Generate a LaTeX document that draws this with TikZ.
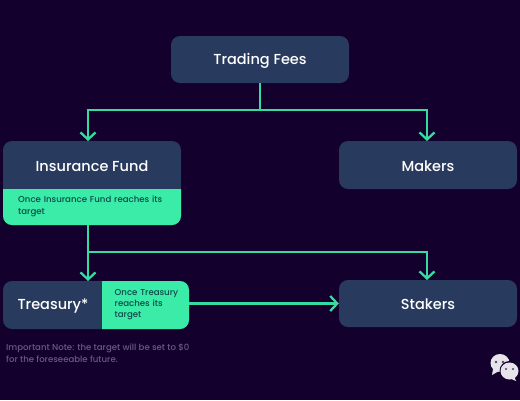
\documentclass[tikz,border=0pt]{standalone}
\usepackage{fontspec}
\setmainfont{Poppins Medium}
\usetikzlibrary{arrows.meta}
\definecolor{bgc}{HTML}{13002D}
\definecolor{navy}{HTML}{283A5E}
\definecolor{mint}{HTML}{3BEBA8}
\definecolor{wire}{HTML}{35DCA2}
\definecolor{darktext}{HTML}{0B4A4A}
\definecolor{notec}{HTML}{6A5A80}
\definecolor{chat}{HTML}{E6E4EA}
\tikzset{
  x=1pt,y=-1pt,
  navybox/.style={fill=navy,rounded corners=9pt,inner sep=0pt},
  bigtxt/.style={text=white,font=\fontsize{14.5}{17}\selectfont,inner sep=0pt},
  smalltxt/.style={text=darktext,font=\fontsize{8.6}{11}\selectfont,align=left,inner sep=0pt},
  wireline/.style={draw=wire,line width=2.3pt},
  arrowline/.style={wireline,-{Straight Barb[length=7pt,width=15pt,line width=2.3pt]}},
}
\begin{document}
\begin{tikzpicture}
\useasboundingbox (0,0) rectangle (520,400);
\fill[bgc] (0,0) rectangle (520,400);

\node[navybox,minimum width=178pt,minimum height=47pt] (fees) at (260,59.5) {};
\node[bigtxt] (feestxt) at (260,60.5) {Trading Fees};
\node[navybox,minimum width=178pt,minimum height=48pt] (makers) at (428,165) {};
\node[bigtxt] (makerstxt) at (428,166) {Makers};
\node[navybox,minimum width=178pt,minimum height=47pt] (stakers) at (428,303.5) {};
\node[bigtxt] (stakerstxt) at (428,304.5) {Stakers};

\node[navybox,minimum width=178pt,minimum height=84pt,
  path picture={\fill[mint] (-100,6) rectangle (100,60);}] (ins) at (92,183) {};
\node[bigtxt] (instxt) at (92,166) {Insurance Fund};
\node[smalltxt,text width=150pt,anchor=north west,font=\fontsize{8.6}{12}\selectfont] (insnote) at (18,195.5) {Once Insurance Fund reaches its target};

\node[navybox,minimum width=186pt,minimum height=48pt,
  path picture={\fill[mint] (6,-40) rectangle (100,40);}] (tre) at (96,305) {};
\node[bigtxt] (tretxt) at (53,306.5) {Treasury*};
\node[smalltxt,text width=70pt,anchor=north west] (trenote) at (114.5,289.5) {Once Treasury\\reaches its\\target};

\node[text=notec,font=\fontsize{8.6}{12.5}\selectfont,align=left,inner sep=0pt,anchor=north west] (imp) at (6,343.5) {Important Note: the target will be set to \$0\\for the foreseeable future.};

\coordinate (split1) at (260,110);
\coordinate (insout) at (88,225);
\coordinate (split2) at (88,252);
\coordinate (insin) at (88,141);
\coordinate (trein) at (88,281);
\coordinate (makin) at (427,141);
\coordinate (stakin) at (427,280);

\draw[wireline] (fees.south) -- (split1);
\draw[arrowline] (split1) -| (insin);
\draw[arrowline] (split1) -| (makin);
\draw[arrowline] (insout) -- (trein);
\draw[arrowline] (split2) -| (stakin);
\draw[arrowline] (tre.east |- stakers.west) -- (stakers.west);

% chat icon
\fill[chat] (500,363) ellipse (9.5 and 9);
\fill[chat] (493,369) -- (492,375) -- (499,371) -- cycle;
\fill[bgc] (509.5,371) circle (10);
\fill[chat] (509.5,371) ellipse (9 and 8.5);
\fill[chat] (514,376) -- (516,381) -- (509,378) -- cycle;
\fill[bgc!70!chat] (496,362) circle (1.3) (503,362) circle (1.3);
\fill[bgc!70!chat] (506,369) circle (1.2) (513,369) circle (1.2);
\end{tikzpicture}
\end{document}
